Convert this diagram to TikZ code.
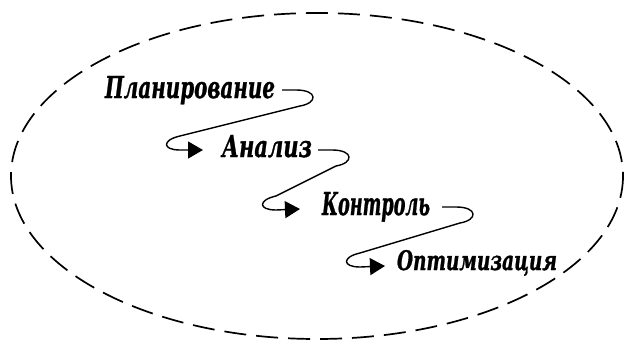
\documentclass[tikz,border=0pt]{standalone}
\usepackage{fontspec}
\usepackage{graphicx}
\newfontfamily\lblfont{DejaVu Serif}[BoldItalicFeatures={FakeBold=1.2}]
\usetikzlibrary{arrows.meta,calc}
\newcommand{\fitw}[3]{\resizebox{#1}{#2}{\lblfont\bfseries\itshape #3}}
\tikzset{
  lbl/.style={inner sep=0pt, outer sep=0pt, anchor=base west},
  conn/.style={line width=1.4pt, -{Triangle[length=15pt,width=17pt]}},
  oval/.style={line width=1.7pt, dash pattern=on 22pt off 10pt}
}
\begin{document}
\begin{tikzpicture}[x=1pt,y=-1pt]
\useasboundingbox (0,0) rectangle (625,340);
\draw[oval] (317,176) ellipse [x radius=306, y radius=163];

\node[lbl] (p) at (105,98) {\fitw{170pt}{22pt}{Планирование}};
\node[lbl] (a) at (222,157) {\fitw{90pt}{22pt}{Анализ}};
\node[lbl] (k) at (322,215) {\fitw{108pt}{23pt}{Контроль}};
\node[lbl] (o) at (397,270) {\fitw{160pt}{20pt}{Оптимизация}};

\draw[conn] ($(p.base east)+(7,-8)$) -- (296,90)
  .. controls (318,90) and (318,103) .. (300,106) -- (180,136)
  .. controls (162,140) and (162,150) .. (180,150) -- ($(a.base west)+(-19,-7)$);
\draw[conn] ($(a.base east)+(6,-7)$) -- (332,150)
  .. controls (354,150) and (354,163) .. (336,166) -- (276,196)
  .. controls (258,200) and (258,210) .. (276,210) -- ($(k.base west)+(-22,-6)$);
\draw[conn] ($(k.base east)+(12,-8)$) -- (456,207)
  .. controls (478,207) and (478,220) .. (460,223) -- (360,253)
  .. controls (342,257) and (342,267) .. (360,267) -- ($(o.base west)+(-12,-4)$);
\end{tikzpicture}
\end{document}
